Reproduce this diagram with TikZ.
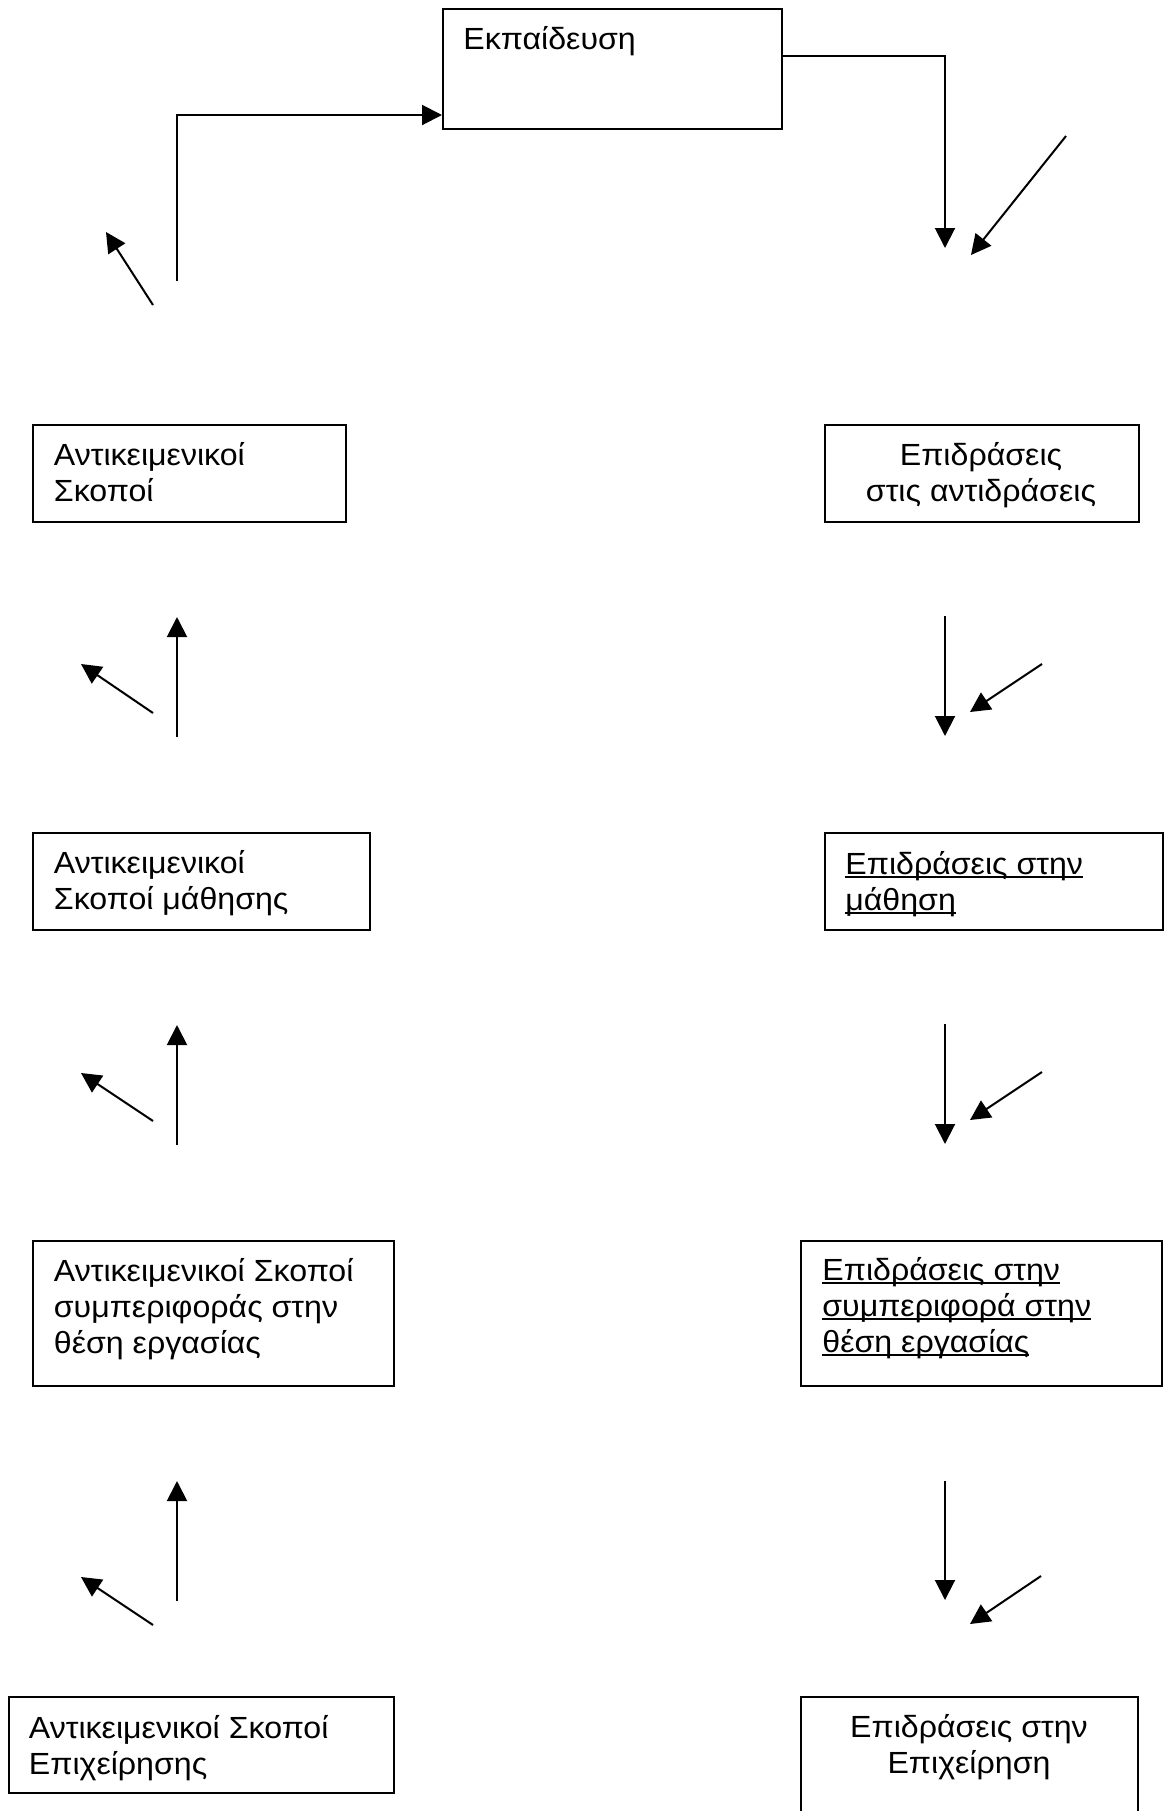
\documentclass[tikz,border=0pt]{standalone}
\usepackage{fontspec}
\setmainfont[FakeStretch=1.05]{Liberation Sans}
\usetikzlibrary{arrows.meta,calc}

% continuous underline that runs through descenders and spaces
\newsavebox\ulbox
\newcommand{\ulline}[1]{\sbox\ulbox{#1}\rlap{\rule[-2.2pt]{\wd\ulbox}{1pt}}\usebox\ulbox}

\begin{document}
\begin{tikzpicture}[x=0.5pt,y=-0.5pt,
  box/.style={draw,line width=1pt,inner sep=0pt,anchor=north west},
  txt/.style={inner sep=0pt,font=\fontsize{15.3pt}{18pt}\selectfont},
  % multi-line texts are placed by the baseline of their last line
  ltxt/.style={txt,anchor=base west,align=left},
  ctxt/.style={txt,anchor=base,align=center},
  arr/.style={line width=1pt,-{Triangle[length=10pt,width=10pt]}}]
\useasboundingbox (0,0) rectangle (1170,1811);

% boxes
\node[box,minimum width=169.5pt,minimum height=60pt]   (T)  at (442,8)    {};
\node[box,minimum width=156.5pt,minimum height=48.5pt] (L1) at (32,424)   {};
\node[box,minimum width=157pt,minimum height=48.5pt]   (R1) at (824,424)  {};
\node[box,minimum width=168.5pt,minimum height=48.5pt] (L2) at (32,832)   {};
\node[box,minimum width=169pt,minimum height=48.5pt]   (R2) at (824,832)  {};
\node[box,minimum width=180.5pt,minimum height=72.5pt] (L3) at (32,1240)  {};
\node[box,minimum width=180.5pt,minimum height=72.5pt] (R3) at (800,1240) {};
\node[box,minimum width=192.5pt,minimum height=48pt]   (L4) at (8,1696)   {};
\node[box,minimum width=168.5pt,minimum height=70pt]   (R4) at (800,1696) {};

% box texts
\node[ltxt] (Tt)  at (463,49)    {Εκπαίδευση};
\node[ltxt] (L1t) at (53.5,501)  {Αντικειμενικοί\\Σκοποί};
\node[ctxt] (R1t) at (981,501)   {Επιδράσεις\\στις αντιδράσεις};
\node[ltxt] (L2t) at (53.5,909)  {Αντικειμενικοί\\Σκοποί μάθησης};
\node[ltxt] (R2t) at (845,910)   {\ulline{Επιδράσεις στην}\\\ulline{μάθηση}};
\node[ltxt] (L3t) at (53.5,1353) {Αντικειμενικοί Σκοποί\\συμπεριφοράς στην\\θέση εργασίας};
\node[ltxt] (R3t) at (822,1352)  {\ulline{Επιδράσεις στην}\\\ulline{συμπεριφορά στην}\\\ulline{θέση εργασίας}};
\node[ltxt] (L4t) at (28.5,1774) {Αντικειμενικοί Σκοποί\\Επιχείρησης};
\node[ctxt] (R4t) at (969,1773)  {Επιδράσεις στην\\Επιχείρηση};

% free ends of the connectors
\coordinate (tl0) at (177,281);
\coordinate (tr0) at (945,248);
\coordinate (dl0s) at (153,305);   \coordinate (dl0e) at (106,232);
\coordinate (dr0s) at (1066,136);  \coordinate (dr0e) at (971,255);

\coordinate (vl1s) at (177,737);   \coordinate (vl1e) at (177,617);
\coordinate (dl1s) at (153,713);   \coordinate (dl1e) at (81,664);
\coordinate (vl2s) at (177,1145);  \coordinate (vl2e) at (177,1025);
\coordinate (dl2s) at (153,1121);  \coordinate (dl2e) at (81,1073);
\coordinate (vl3s) at (177,1601);  \coordinate (vl3e) at (177,1481);
\coordinate (dl3s) at (153,1625);  \coordinate (dl3e) at (81,1577);

\coordinate (vr1s) at (945,616);   \coordinate (vr1e) at (945,736);
\coordinate (dr1s) at (1042,664);  \coordinate (dr1e) at (970,712);
\coordinate (vr2s) at (945,1024);  \coordinate (vr2e) at (945,1144);
\coordinate (dr2s) at (1042,1072); \coordinate (dr2e) at (970,1120);
\coordinate (vr3s) at (945,1481);  \coordinate (vr3e) at (945,1600);
\coordinate (dr3s) at (1041,1576); \coordinate (dr3e) at (970,1624);

% loop through the training box
\draw[arr] (tl0) |- ($(T.south west)+(0,-15)$);
\draw[arr] ($(T.north east)+(0,48)$) -| (tr0);
\draw[arr] (dl0s) -- (dl0e);
\draw[arr] (dr0s) -- (dr0e);

% left column
\draw[arr] (vl1s) -- (vl1e);
\draw[arr] (dl1s) -- (dl1e);
\draw[arr] (vl2s) -- (vl2e);
\draw[arr] (dl2s) -- (dl2e);
\draw[arr] (vl3s) -- (vl3e);
\draw[arr] (dl3s) -- (dl3e);

% right column
\draw[arr] (vr1s) -- (vr1e);
\draw[arr] (dr1s) -- (dr1e);
\draw[arr] (vr2s) -- (vr2e);
\draw[arr] (dr2s) -- (dr2e);
\draw[arr] (vr3s) -- (vr3e);
\draw[arr] (dr3s) -- (dr3e);
\end{tikzpicture}
\end{document}
